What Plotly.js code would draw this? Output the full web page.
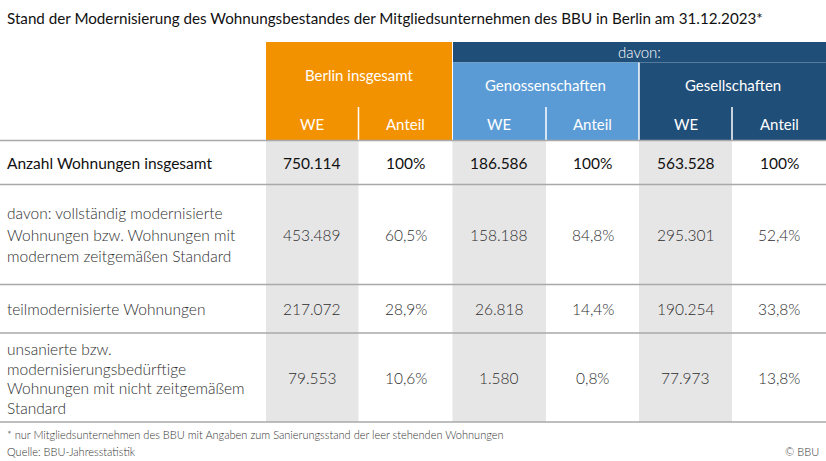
<!DOCTYPE html>
<html>
<head>
<meta charset="utf-8">
<script src="https://cdn.plot.ly/plotly-3.0.1.min.js"></script>
<style>
html,body{margin:0;padding:0;background:#fff;}
#chart{width:826px;height:461px;}
</style>
</head>
<body>
<div id="chart"></div>
<script>
// ---------- DATA ----------
const titleText = "Stand der Modernisierung des Wohnungsbestandes der Mitgliedsunternehmen des BBU in Berlin am 31.12.2023*";
const groupLabels = ["Berlin insgesamt", "Genossenschaften", "Gesellschaften"];
const subGroupLabel = "davon:";
const colLabels = ["WE", "Anteil"];
const rowLabels = [
  ["Anzahl Wohnungen insgesamt"],
  ["davon: vollständig modernisierte", "Wohnungen bzw. Wohnungen mit", "modernem zeitgemäßen Standard"],
  ["teilmodernisierte Wohnungen"],
  ["unsanierte bzw.", "modernisierungsbedürftige", "Wohnungen mit nicht zeitgemäßem", "Standard"]
];
const weBerlin = [750114, 453489, 217072, 79553];
const anteilBerlin = [100, 60.5, 28.9, 10.6];
const weGen = [186586, 158188, 26818, 1580];
const anteilGen = [100, 84.8, 14.4, 0.8];
const weGes = [563528, 295301, 190254, 77973];
const anteilGes = [100, 52.4, 33.8, 13.8];
const footnote = "* nur Mitgliedsunternehmen des BBU mit Angaben zum Sanierungsstand der leer stehenden Wohnungen";
const source = "Quelle: BBU-Jahresstatistik";
const copyright = "© BBU";

// ---------- LAYOUT CONSTANTS ----------
const W = 826, H = 461;
const colEdges = [266, 358.5, 452.5, 546, 639, 732, 826]; // value column edges
const rowEdges = [140.5, 184.5, 284.5, 333, 422];
const hdrTop = 42, davonBottom = 62.5, groupBottom = 107, hdrBottom = 140;
const cOrange = "#F39200", cLight = "#5B9BD5", cDark = "#1F4E79", cGrey = "#E7E6E6", cLine = "#A9A9A9";
const FONT = "Lato, 'Open Sans', sans-serif";

function fmtInt(v){ return String(v).replace(/\B(?=(\d{3})+(?!\d))/g, "."); }
function fmtPct(v){ return (Number.isInteger(v) ? String(v) : v.toFixed(1).replace(".", ",")) + "%"; }

const shapes = [];
const ann = [];
function rect(x0,y0,x1,y1,color){ shapes.push({type:"rect",xref:"x",yref:"y",x0,y0,x1,y1,fillcolor:color,line:{width:0},layer:"below"}); }
function line(x0,y0,x1,y1,color,w){ shapes.push({type:"line",xref:"x",yref:"y",x0,y0,x1,y1,line:{color,width:w}}); }
function txt(x,y,t,opt){
  opt = opt||{};
  ann.push({xref:"x",yref:"y",x,y,text:t,showarrow:false,xanchor:opt.xa||"center",yanchor:"middle",
    font:{family:FONT,size:opt.size||15,color:opt.color||"#333",weight:opt.weight||400}});
}

// header blocks
rect(colEdges[0], hdrTop, colEdges[2]-0.5, hdrBottom, cOrange);
rect(colEdges[2]+0.5, hdrTop, W, davonBottom, cDark);
rect(colEdges[2]+0.5, davonBottom, colEdges[4], hdrBottom, cLight);
rect(colEdges[4], davonBottom, W, hdrBottom, cDark);
// white separators in header
line(colEdges[1], groupBottom, colEdges[1], hdrBottom, "#fff", 1.5);
line(colEdges[3], groupBottom, colEdges[3], hdrBottom, "#fff", 1.5);
line(colEdges[5], groupBottom, colEdges[5], hdrBottom, "#fff", 1.5);
line(colEdges[4], davonBottom, colEdges[4], hdrBottom, "#fff", 1.5);

// grey WE columns in body
[0,2,4].forEach(i => rect(colEdges[i], hdrBottom, colEdges[i+1], rowEdges[rowEdges.length-1], cGrey));

// horizontal row lines
rowEdges.forEach(y => line(0, y, W, y, cLine, 1.5));

// header texts
const groupCenters = [(colEdges[0]+colEdges[2])/2, (colEdges[2]+colEdges[4])/2, (colEdges[4]+colEdges[6])/2];
txt(groupCenters[0], (hdrTop+groupBottom)/2, groupLabels[0], {color:"#fff", size:15});
txt(groupCenters[1], (davonBottom+groupBottom)/2, groupLabels[1], {color:"#fff", size:15});
txt(groupCenters[2], (davonBottom+groupBottom)/2, groupLabels[2], {color:"#fff", size:15});
txt((colEdges[2]+W)/2, (hdrTop+davonBottom)/2, subGroupLabel, {color:"#fff", size:15, weight:300});
for (let c=0;c<6;c++) txt((colEdges[c]+colEdges[c+1])/2, (groupBottom+hdrBottom)/2, colLabels[c%2], {color:"#fff", size:15});

// row labels
const lineGap = [0, 21.5, 0, 19.5];
rowLabels.forEach((lines, r) => {
  const yc = (rowEdges[r]+rowEdges[r+1])/2;
  const n = lines.length;
  lines.forEach((t, k) => {
    const y = yc + (k-(n-1)/2)*lineGap[r] + (r===3 ? 1 : 0);
    txt(5, y, t, {xa:"left", size:15.5, color: r===0?"#111":"#2e2e2e", weight: r===0?400:300});
  });
});

// values
const cols = [weBerlin.map(fmtInt), anteilBerlin.map(fmtPct), weGen.map(fmtInt), anteilGen.map(fmtPct), weGes.map(fmtInt), anteilGes.map(fmtPct)];
cols.forEach((vals, c) => {
  vals.forEach((v, r) => {
    txt((colEdges[c]+colEdges[c+1])/2, (rowEdges[r]+rowEdges[r+1])/2, v,
      {size:15.5, color: r===0?"#111":"#2e2e2e", weight: r===0?400:300});
  });
});

// title & footer
txt(5, 18, titleText, {xa:"left", size:15.2, color:"#111", weight:400});
txt(5, 434, footnote, {xa:"left", size:11, color:"#333", weight:300});
txt(5, 451, source, {xa:"left", size:11, color:"#333", weight:300});
ann.push({xref:"x",yref:"y",x:821,y:451,text:copyright,showarrow:false,xanchor:"right",yanchor:"middle",
  font:{family:FONT,size:11,color:"#333",weight:300}});

const layout = {
  width: W, height: H,
  margin: {l:0, r:0, t:0, b:0},
  paper_bgcolor: "#fff", plot_bgcolor: "#fff",
  xaxis: {range:[0,W], visible:false, fixedrange:true},
  yaxis: {range:[H,0], visible:false, fixedrange:true},
  shapes, annotations: ann, showlegend:false
};
Plotly.newPlot("chart", [{x:[], y:[], type:"scatter", mode:"markers", hoverinfo:"skip"}], layout, {displayModeBar:false, staticPlot:true});
</script>
</body>
</html>
